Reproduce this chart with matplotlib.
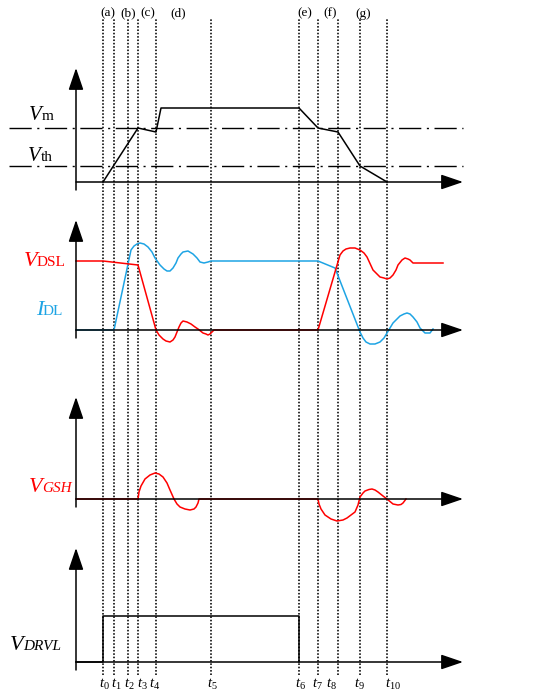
"""
Switching waveform timing diagram (t0..t10), four stacked panels.
"""

import matplotlib
matplotlib.use("Agg")  # headless backend

import matplotlib.pyplot as plt

plt.rcParams["font.family"] = ["Liberation Serif", "DejaVu Serif"]
plt.rcParams["mathtext.fontset"] = "custom"
plt.rcParams["mathtext.rm"] = "Liberation Serif"
plt.rcParams["mathtext.it"] = "Liberation Serif:italic"

RED = "#ff0000"
BLUE = "#1ea4e4"

# switching instants (time units, t0 = 0)
t_marks = [0, 11, 25, 35, 53, 108, 196, 215, 235, 257, 284]
t_names = [f"$t_{{{i}}}$" for i in range(11)]
phase_names = ["(a)", "(b)", "(c)", "(d)", "(e)", "(f)", "(g)"]
phase_pos = [5, 25, 45, 75.5, 202, 227, 260]

# panel 1: node voltage with V_th / V_m levels
vth_level = 16
vm_level = 54
p1_t = [0, 35, 53, 58, 196, 215, 235, 257, 284]
p1_v = [0, 54, 50, 74, 74, 54, 50, 16, 0]

# panel 2: V_DSL (red) and I_DL (blue)
vdsl_t = [-27, 0, 35, 53, 56, 60, 63, 67, 70, 72, 74, 76, 78, 80, 84, 88,
          92, 95, 100, 103, 105, 107, 109, 111, 215, 237, 240, 243, 247,
          252, 257, 261, 264, 270, 277, 281, 284, 287, 290, 293, 295, 299,
          302, 305, 307, 310, 340]
vdsl_v = [69, 69, 65, 0, -5, -9, -11, -12, -10, -7, -2, 3, 7, 9, 8, 6,
          3, 1, -3, -4, -5, -4, -2, 0, 0, 75, 79, 81, 82,
          82, 80, 77, 73, 60, 53, 52, 51, 52, 55, 60, 65, 70,
          72, 71, 70, 67, 67]
idl_t = [-27, 11, 28, 31, 34, 37, 41, 45, 49, 52, 57, 61, 64, 67, 70, 73,
         75, 78, 80, 85, 90, 94, 97, 101, 105, 108, 215, 232, 257, 260,
         263, 267, 272, 277, 281, 284, 290, 294, 297, 301, 304, 307, 310,
         314, 317, 320, 322, 325, 327, 330]
idl_v = [0, 0, 80, 84, 86, 87, 86, 83, 78, 72, 65, 61, 59, 59, 62, 67,
         72, 76, 78, 79, 76, 72, 68, 67, 68, 69, 69, 62, -2, -8,
         -12, -14, -14, -12, -8, -3, 7, 11, 14, 16, 17, 16, 13,
         8, 2, -1, -3, -3, -3, 1]

# panel 3: V_GSH
vgsh_t = [-27, 35, 36, 38, 42, 47, 52, 56, 60, 64, 67, 71, 74, 77, 82, 87,
          91, 93, 95, 96, 215, 216, 218, 222, 228, 234, 240, 244, 248, 252,
          255, 257, 260, 262, 266, 269, 272, 275, 280, 284, 290, 295, 298,
          300, 303]
vgsh_v = [0, 0, 7, 13, 20, 24, 26, 25, 22, 16, 9, 0, -5, -8, -10, -11,
          -10, -8, -4, 0, 0, -5, -10, -16, -20, -22, -21, -19, -16, -13,
          -6, 2, 6, 8, 9.5, 10, 9, 7, 3, 0, -5, -6, -5.5,
          -4, 0]

# panel 4: V_DRVL gate drive
vdrvl_t = [-27, 0, 0, 196, 196]
vdrvl_v = [0, 0, 46, 46, 0]

# layout (pixels of the 550x696 canvas)
W, H = 550, 696
X0 = 103          # pixel column of t0
Y_AXIS = -27      # y-axis position in time units
X_TIP = 360       # x-axis arrow tip in time units
# (top, bottom, baseline, arrow tip height)
bands = [(60, 200, 182, 114), (212, 350, 330, 110),
         (390, 530, 499, 102), (540, 676, 662, 114)]

fig = plt.figure(figsize=(W / 100, H / 100), dpi=100)

ov = fig.add_axes([0, 0, 1, 1])
ov.set_xlim(-X0, W - X0)
ov.set_ylim(0, 1)
ov.axis("off")
for t in t_marks:
    ov.axvline(t, ymin=1 - 675 / H, ymax=1 - 19 / H, color="black",
               lw=1.15, ls=(0, (1, 1.1)), zorder=1)
xt = ov.get_xaxis_transform()
for name, p in zip(phase_names, phase_pos):
    ov.text(p, 1 - 13.5 / H, name, transform=xt, ha="center", va="center",
            fontsize=9.5)
tick_shift = [1.5, 2, 1.5, 4.5, -1, 1.5, 1, -1, -7, -1, 6]
for t, name, dx in zip(t_marks, t_names, tick_shift):
    ov.text(t + dx, 1 - 684 / H, name, transform=xt, ha="center",
            va="center", fontsize=10.5)

axes = []
for top, bot, base, tip in bands:
    ax = fig.add_axes([0, 1 - bot / H, 1, (bot - top) / H])
    ax.set_xlim(-X0, W - X0)
    ax.set_ylim(-(bot - base), base - top)
    ax.axis("off")
    ax.patch.set_alpha(0)
    arrow = dict(arrowstyle="-|>,head_length=13.5,head_width=4.6",
                 mutation_scale=1, lw=1.1, color="black",
                 shrinkA=0, shrinkB=0)
    ax.annotate("", xy=(Y_AXIS, tip), xytext=(Y_AXIS, -8), arrowprops=arrow)
    ax.annotate("", xy=(X_TIP, 0), xytext=(Y_AXIS, 0), arrowprops=arrow)
    axes.append(ax)

ax1, ax2, ax3, ax4 = axes

# panel 1
for lvl in (vm_level, vth_level):
    ax1.hlines(lvl, -94, X_TIP, color="black", lw=1.0,
               ls=(0, (16, 4, 1.5, 4)))
ax1.plot(p1_t, p1_v, color="black", lw=1.1)
ax1.text(-61, 62, "V", style="italic", fontsize=15, ha="right",
         va="baseline")
ax1.text(-61, 62, "m", fontsize=11, ha="left", va="baseline")
ax1.text(-62, 21, "V", style="italic", fontsize=15, ha="right",
         va="baseline")
ax1.text(-62, 21, "th", fontsize=11, ha="left", va="baseline")

# panel 2
ax2.plot(idl_t, idl_v, color=BLUE, lw=1.1)
ax2.plot(vdsl_t, vdsl_v, color=RED, lw=1.1)
ax2.text(-66, 64, "V", style="italic", fontsize=16, ha="right",
         va="baseline", color=RED)
ax2.text(-66, 64, "DSL", fontsize=11, ha="left", va="baseline", color=RED)
ax2.text(-60, 15, "I", style="italic", fontsize=16, ha="right",
         va="baseline", color=BLUE)
ax2.text(-60, 15, "DL", fontsize=11, ha="left", va="baseline", color=BLUE)

# panel 3
ax3.plot(vgsh_t, vgsh_v, color=RED, lw=1.1)
ax3.text(-61, 7, "V", style="italic", fontsize=16, ha="right",
         va="baseline", color=RED)
ax3.text(-61, 7, "GSH", style="italic", fontsize=11, ha="left",
         va="baseline", color=RED)

# panel 4
ax4.plot(vdrvl_t, vdrvl_v, color="black", lw=1.1)
ax4.text(-80, 12, "V", style="italic", fontsize=16, ha="right",
         va="baseline")
ax4.text(-80, 12, "DRVL", style="italic", fontsize=11, ha="left",
         va="baseline")

fig.savefig("out.png", dpi=100)
plt.close(fig)
